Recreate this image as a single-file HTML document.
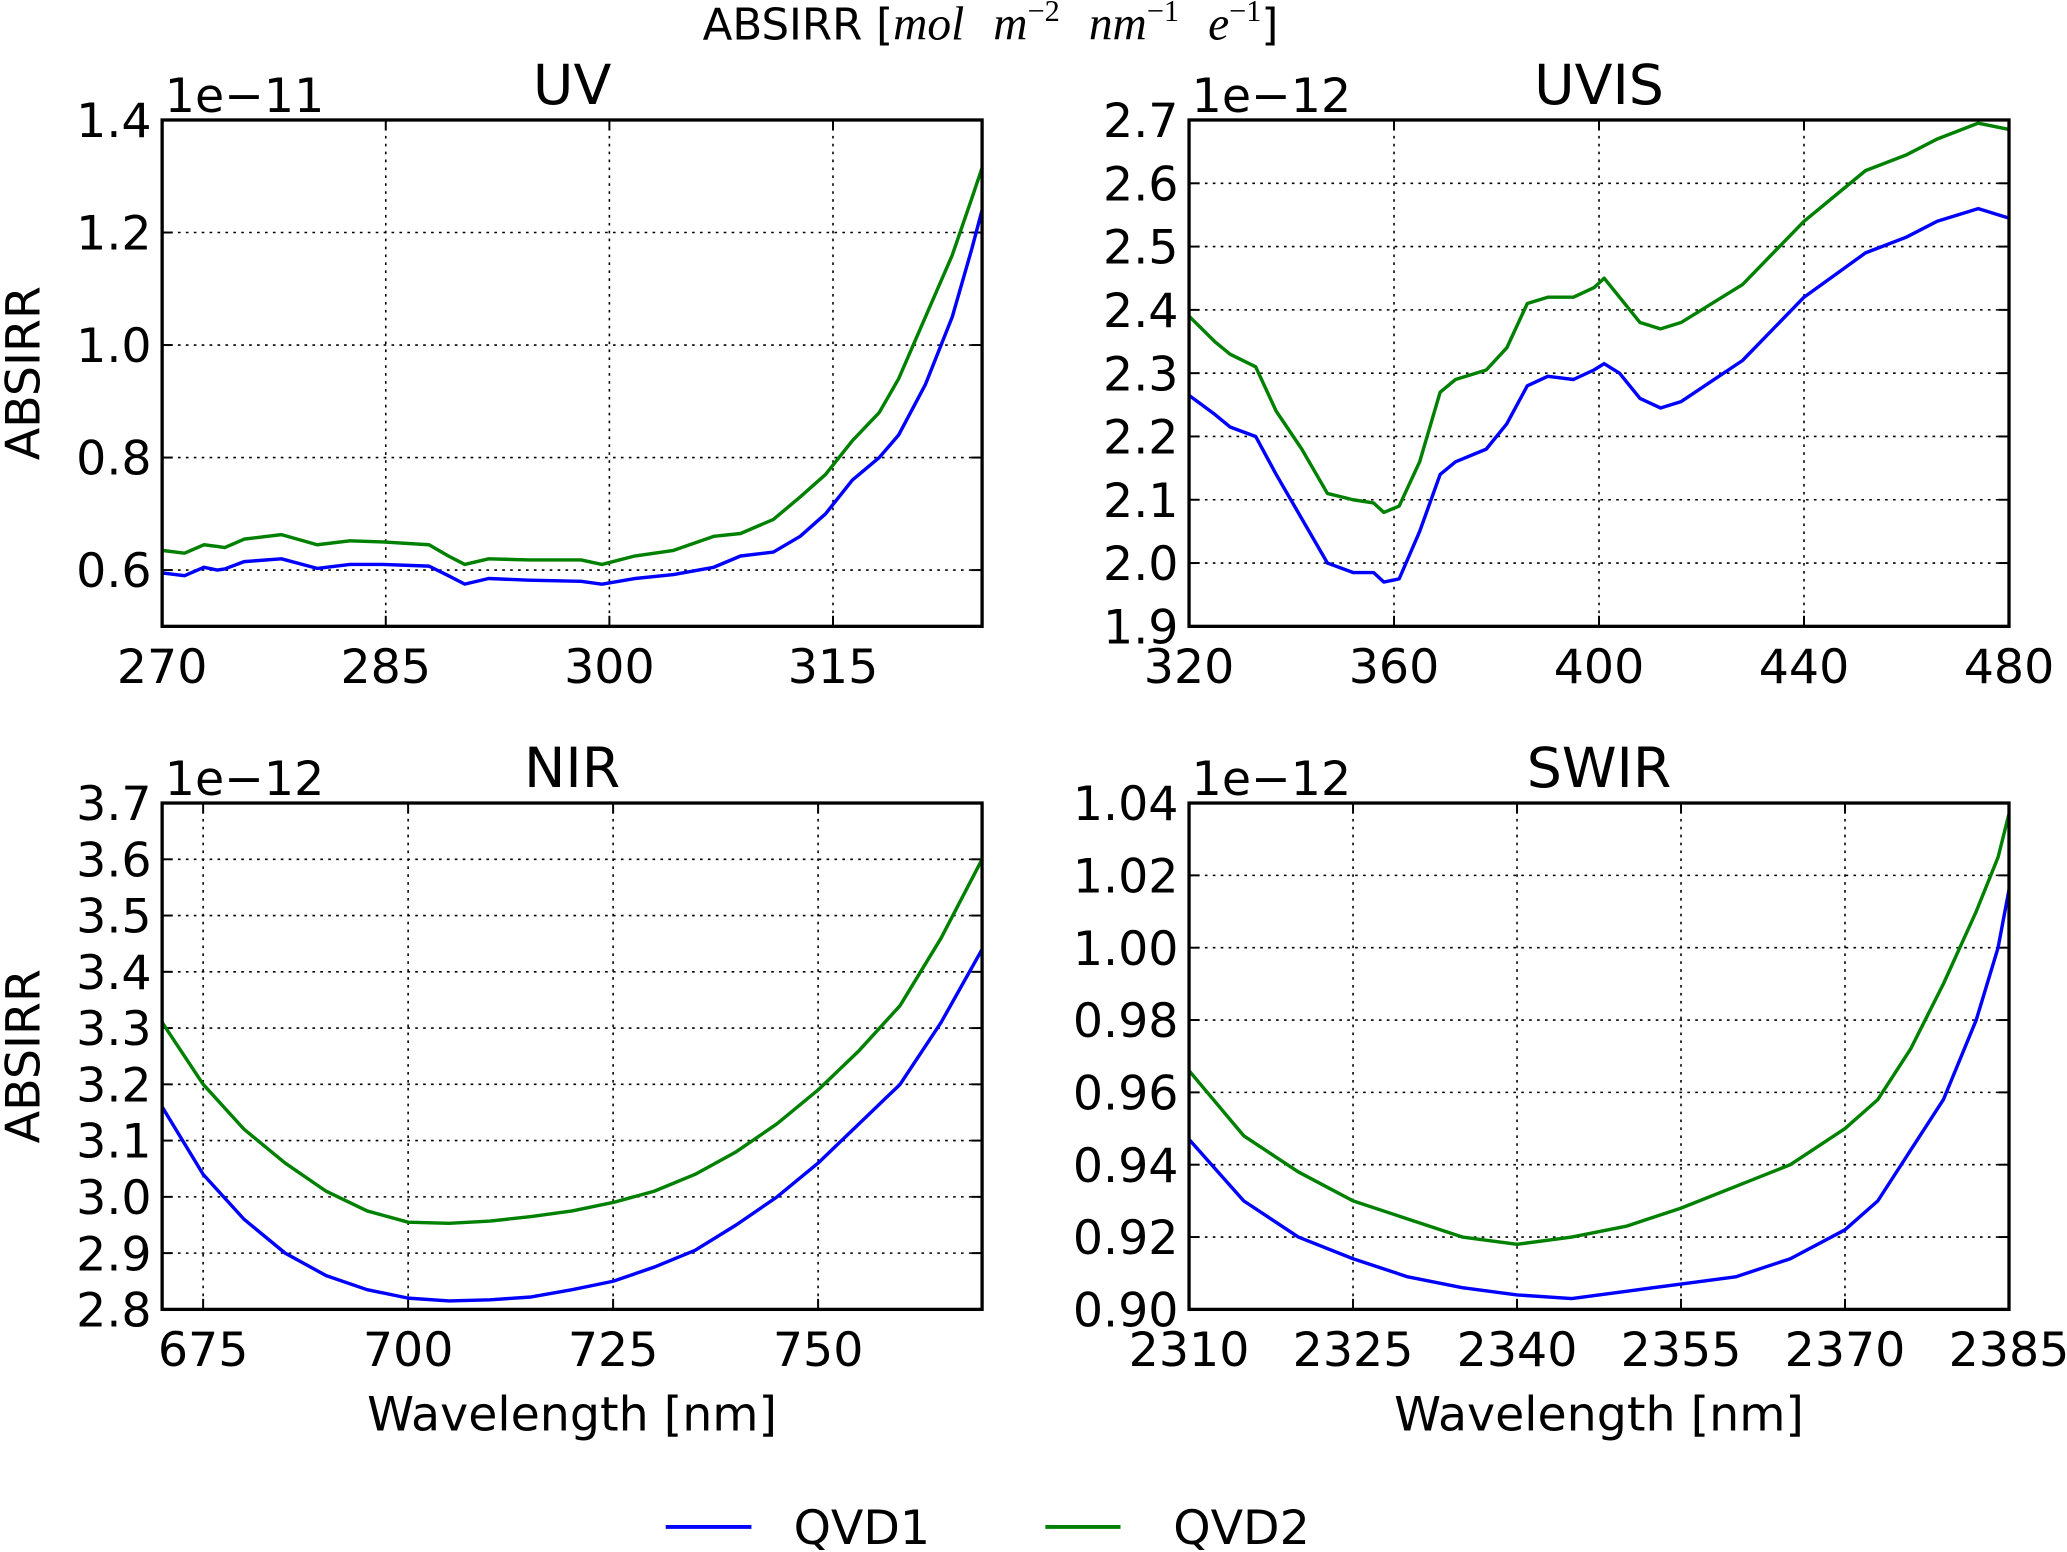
<!DOCTYPE html>
<html><head><meta charset="utf-8"><style>html,body{margin:0;padding:0;background:#fff}svg{display:block}</style></head>
<body>
<svg id="fig" xmlns="http://www.w3.org/2000/svg" width="2067" height="1552" viewBox="0 0 1568 1177" preserveAspectRatio="none" font-family="'DejaVu Sans','Liberation Sans',sans-serif">
<text x="533" y="30" font-size="33">ABSIRR [<tspan font-family="'Liberation Serif',serif" font-style="italic" font-size="36">mol</tspan><tspan dx="22" font-family="'Liberation Serif',serif" font-style="italic" font-size="36">m</tspan><tspan font-size="23" dy="-14" font-family="'Liberation Serif',serif">−2</tspan><tspan dy="14" dx="22" font-family="'Liberation Serif',serif" font-style="italic" font-size="36">nm</tspan><tspan font-size="23" dy="-14" font-family="'Liberation Serif',serif">−1</tspan><tspan dy="14" dx="22" font-family="'Liberation Serif',serif" font-style="italic" font-size="36">e</tspan><tspan font-size="23" dy="-14" font-family="'Liberation Serif',serif">−1</tspan><tspan dy="14">]</tspan></text>
<g id="plots"></g>
<g>
<line x1="505" y1="1158" x2="570" y2="1158" stroke="#0000ff" stroke-width="3"/>
<text x="602" y="1171" font-size="36">QVD1</text>
<line x1="793" y1="1158" x2="850" y2="1158" stroke="#008000" stroke-width="3"/>
<text x="890" y="1171" font-size="36">QVD2</text>
</g>
</svg>
<script>
const uvX=[270,271.5,272.8,273.7,274.2,275.5,278,280.4,282.6,284.8,287.9,289.2,290.3,291.9,294.6,298.1,299.5,301.7,304.3,307,308.8,311,312.8,314.5,316.3,318.1,319.4,321.2,323,324.3,325];
const uvQ1=[0.595,0.59,0.605,0.60,0.602,0.615,0.62,0.603,0.61,0.61,0.607,0.59,0.575,0.585,0.582,0.58,0.575,0.585,0.592,0.605,0.625,0.632,0.66,0.70,0.76,0.80,0.84,0.93,1.05,1.17,1.24];
const uvQ2=[0.635,0.63,0.645,0.642,0.64,0.655,0.663,0.645,0.652,0.65,0.645,0.625,0.61,0.62,0.618,0.618,0.61,0.625,0.635,0.66,0.665,0.69,0.73,0.77,0.83,0.88,0.94,1.05,1.16,1.26,1.315];
const visX=[320,325,328,333,337,342,347,352,356,358,361,365,369,372,378,382,386,390,395,399,401,404,408,412,416,428,440,452,460,466,474,480];
const visQ1=[2.265,2.235,2.215,2.2,2.14,2.07,2.0,1.985,1.985,1.97,1.975,2.05,2.14,2.16,2.18,2.22,2.28,2.295,2.29,2.305,2.315,2.3,2.26,2.245,2.255,2.32,2.42,2.49,2.515,2.54,2.56,2.545];
const visQ2=[2.39,2.35,2.33,2.31,2.24,2.18,2.11,2.1,2.095,2.08,2.09,2.16,2.27,2.29,2.305,2.34,2.41,2.42,2.42,2.435,2.45,2.42,2.38,2.37,2.38,2.44,2.54,2.62,2.645,2.67,2.695,2.685];
const nirX=[670,675,680,685,690,695,700,705,710,715,720,725,730,735,740,745,750,755,760,765,770];
const nirQ1=[3.16,3.04,2.96,2.9,2.86,2.835,2.82,2.815,2.817,2.822,2.835,2.85,2.875,2.905,2.95,3.0,3.06,3.13,3.2,3.31,3.44];
const nirQ2=[3.31,3.2,3.12,3.06,3.01,2.975,2.955,2.953,2.957,2.965,2.975,2.99,3.01,3.04,3.08,3.13,3.19,3.26,3.34,3.46,3.6];
const swX=[2310,2315,2320,2325,2330,2335,2340,2345,2350,2355,2360,2365,2370,2373,2376,2379,2382,2384,2385];
const swQ1=[0.947,0.93,0.92,0.914,0.909,0.906,0.904,0.903,0.905,0.907,0.909,0.914,0.922,0.93,0.944,0.958,0.98,1.0,1.016];
const swQ2=[0.966,0.948,0.938,0.93,0.925,0.92,0.918,0.92,0.923,0.928,0.934,0.94,0.95,0.958,0.972,0.99,1.01,1.025,1.037];
const uvXT=[270,285,300,315], uvYT=[0.6,0.8,1.0,1.2,1.4], uvYL=["0.6","0.8","1.0","1.2","1.4"];
const visXT=[320,360,400,440,480], visYT=[1.9,2.0,2.1,2.2,2.3,2.4,2.5,2.6,2.7], visYL=["1.9","2.0","2.1","2.2","2.3","2.4","2.5","2.6","2.7"];
const nirXT=[675,700,725,750], nirYT=[2.8,2.9,3.0,3.1,3.2,3.3,3.4,3.5,3.6,3.7], nirYL=["2.8","2.9","3.0","3.1","3.2","3.3","3.4","3.5","3.6","3.7"];
const swXT=[2310,2325,2340,2355,2370,2385], swYT=[0.90,0.92,0.94,0.96,0.98,1.00,1.02,1.04], swYL=["0.90","0.92","0.94","0.96","0.98","1.00","1.02","1.04"];

const NS="http://www.w3.org/2000/svg";
const root=document.getElementById('plots');
const FS=36;
function mk(tag,attrs,parent){const e=document.createElementNS(NS,tag);for(const k in attrs)e.setAttribute(k,attrs[k]);parent.appendChild(e);return e;}
function panel(o){
  const g=mk('g',{},root);
  
  
  const L=o.left,R=o.left+622,T=o.top,B=o.top+384;
  const sx=v=>L+(v-o.x0)/(o.x1-o.x0)*(R-L);
  const sy=v=>B-(v-o.y0)/(o.y1-o.y0)*(B-T);
  o.xt.forEach(v=>{const x=sx(v);
    const gl=mk('line',{x1:x,x2:x,y1:T,y2:B,stroke:'#000','stroke-width':1.2,'stroke-dasharray':'2,4'},g);
    
    mk('line',{x1:x,x2:x,y1:B,y2:B-8,stroke:'#000','stroke-width':1.5},g);
    mk('line',{x1:x,x2:x,y1:T,y2:T+8,stroke:'#000','stroke-width':1.5},g);
    const t=mk('text',{x:x,y:B+43,'font-size':FS,'text-anchor':'middle'},g);t.textContent=String(v);
    });
  o.yt.forEach((v,i)=>{const y=sy(v);
    const gl=mk('line',{x1:L,x2:R,y1:y,y2:y,stroke:'#000','stroke-width':1.2,'stroke-dasharray':'2,4'},g);
    
    mk('line',{x1:L,x2:L+8,y1:y,y2:y,stroke:'#000','stroke-width':1.5},g);
    mk('line',{x1:R,x2:R-8,y1:y,y2:y,stroke:'#000','stroke-width':1.5},g);
    const t=mk('text',{x:L-8,y:y+13,'font-size':FS,'text-anchor':'end'},g);t.textContent=o.yl[i];
    });
  [[o.q1,'#0000ff','qvd1'],[o.q2,'#008000','qvd2']].forEach(([arr,c,n])=>{
    const p=mk('polyline',{points:o.x.map((v,i)=>sx(v)+','+sy(arr[i])).join(' '),fill:'none',stroke:c,'stroke-width':2.6,'stroke-linejoin':'round'},g);
    });
  const fr=mk('rect',{x:L,y:T,width:R-L,height:B-T,fill:'none',stroke:'#000','stroke-width':2.5},g);
  
  const ti=mk('text',{x:(L+R)/2,y:T-12,'font-size':42,'text-anchor':'middle'},g);ti.textContent=o.title;
  
  const ex=mk('text',{x:L+2,y:T-6,'font-size':FS},g);ex.textContent=o.exp;
  
  if(o.ylab){const t=mk('text',{x:0,y:0,'font-size':FS,'text-anchor':'middle',transform:`translate(30,${(T+B)/2}) rotate(-90)`},g);t.textContent='ABSIRR';
    }
  if(o.xlab){const t=mk('text',{x:(L+R)/2,y:B+92,'font-size':FS,'text-anchor':'middle'},g);t.textContent='Wavelength [nm]';
    }
}
panel({key:'uv',title:'UV',exp:'1e−11',left:123,top:91,x0:270,x1:325,y0:0.5,y1:1.4,x:uvX,q1:uvQ1,q2:uvQ2,xt:uvXT,yt:uvYT,yl:uvYL,ylab:true});
panel({key:'uvis',title:'UVIS',exp:'1e−12',left:902,top:91,x0:320,x1:480,y0:1.9,y1:2.7,x:visX,q1:visQ1,q2:visQ2,xt:visXT,yt:visYT,yl:visYL});
panel({key:'nir',title:'NIR',exp:'1e−12',left:123,top:609,x0:670,x1:770,y0:2.8,y1:3.7,x:nirX,q1:nirQ1,q2:nirQ2,xt:nirXT,yt:nirYT,yl:nirYL,ylab:true,xlab:true});
panel({key:'swir',title:'SWIR',exp:'1e−12',left:902,top:609,x0:2310,x1:2385,y0:0.90,y1:1.04,x:swX,q1:swQ1,q2:swQ2,xt:swXT,yt:swYT,yl:swYL,xlab:true});
</script>
</body></html>
